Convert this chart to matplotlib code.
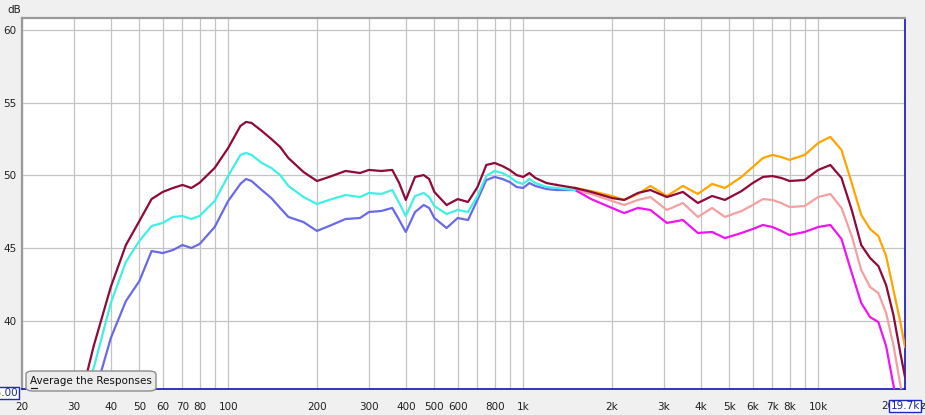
import numpy as np
import matplotlib.pyplot as plt
from matplotlib.patches import FancyBboxPatch
from matplotlib.lines import Line2D
from matplotlib.ticker import FixedLocator, NullFormatter

plt.rcParams['font.family'] = ['DejaVu Sans']

# frequency grids (Hz)
f_low = [35, 40, 45, 50, 55, 60, 65, 70, 75, 80, 90, 100, 110, 115, 120, 130, 140, 150, 160,
         180, 200, 220, 250, 280, 300, 330, 360, 380, 400, 430, 460, 480, 500, 550, 600, 650,
         700, 750, 800, 850, 900, 950, 1000, 1050, 1100, 1200, 1300]
f_high = [1500, 1700, 2000, 2200, 2450, 2700, 3070, 3480, 3910, 4370, 4830, 5500, 6000, 6500,
          7000, 7500, 8000, 9000, 10000, 11000, 12000, 13000, 14000, 15000, 16000, 17000,
          18000, 19000, 19700]

# dark red response, full range
maroon_low = [35.1, 38.28, 42.34, 45.22, 46.87, 48.38, 48.87, 49.14, 49.35, 49.14, 49.5, 50.52,
              51.89, 53.40, 53.68, 53.61, 53.06, 52.51, 51.96, 51.2, 50.24, 49.62, 49.9, 50.31,
              50.17, 50.38, 50.31, 50.38, 49.48, 48.32, 49.9, 50.03, 49.76, 48.87, 47.97, 48.38,
              48.18, 49.2, 50.72, 50.86, 50.65, 50.38, 50.03, 49.9, 50.17, 49.83, 49.48, 49.35]
maroon_high = [49.14, 48.87, 48.45, 48.32, 48.8, 49.0, 48.52, 48.87, 48.11, 48.59, 48.32,
               48.93, 49.48, 49.9, 49.96, 49.83, 49.62, 49.69, 50.38, 50.72, 49.83, 47.63,
               45.22, 44.33, 43.78, 42.47, 40.41, 37.8, 36.15]

# low band responses
cyan_db = [36.0, 36.77, 41.24, 44.06, 45.5, 46.53, 46.74, 47.15, 47.22, 47.01, 47.22, 48.25,
           49.97, 51.41, 51.55, 51.41, 50.86, 50.52, 50.03, 49.28, 48.52, 48.04, 48.32, 48.66,
           48.52, 48.80, 48.73, 49.0, 48.11, 47.22, 48.59, 48.8, 48.52, 47.9, 47.35, 47.63,
           47.49, 48.59, 49.97, 50.31, 50.17, 49.9, 49.55, 49.42, 49.76, 49.48, 49.21, 49.14,
           49.0]
blue_db = [35.6, 38.83, 41.37, 42.75, 44.81, 44.67, 44.88, 45.22, 45.02, 45.29, 46.46, 48.25,
           49.42, 49.76, 49.62, 49.0, 48.45, 47.77, 47.15, 46.8, 46.19, 46.53, 47.01, 47.08,
           47.49, 47.56, 47.77, 46.94, 46.12, 47.49, 47.97, 47.77, 47.08, 46.39, 47.08, 46.94,
           48.32, 49.69, 49.9, 49.76, 49.55, 49.21, 49.14, 49.48, 49.28, 49.07, 49.0, 49.0]

# high band responses
orange_db = [49.14, 48.93, 48.59, 48.32, 48.73, 49.28, 48.59, 49.28, 48.73, 49.42, 49.14,
             49.9, 50.58, 51.2, 51.41, 51.27, 51.07, 51.41, 52.23, 52.65, 51.75, 49.48,
             47.29, 46.32, 45.84, 44.47, 42.13, 39.93, 38.21]
salmon_db = [49.0, 48.73, 48.25, 47.97, 48.32, 48.52, 47.63, 48.11, 47.15, 47.77, 47.15,
             47.56, 47.97, 48.38, 48.32, 48.11, 47.83, 47.9, 48.52, 48.73, 47.77, 45.84,
             43.5, 42.34, 41.92, 40.55, 38.35, 35.6, 34.2]
magenta_db = [49.0, 48.38, 47.77, 47.42, 47.77, 47.63, 46.74, 46.94, 46.05, 46.12, 45.7,
              46.05, 46.32, 46.6, 46.46, 46.19, 45.91, 46.12, 46.46, 46.6, 45.64, 43.3,
              41.24, 40.27, 39.93, 38.28, 35.6, 33.5]

x_major = [20, 30, 40, 50, 60, 70, 80, 100, 200, 300, 400, 500, 600, 800, 1000,
           2000, 3000, 4000, 5000, 6000, 7000, 8000, 10000]
x_labels = ['20', '30', '40', '50', '60', '70', '80', '100', '200', '300', '400', '500',
            '600', '800', '1k', '2k', '3k', '4k', '5k', '6k', '7k', '8k', '10k']
x_minor = [90, 700, 900, 9000]
y_major = [40, 45, 50, 55, 60]

W, H = 925, 415
fig = plt.figure(figsize=(W / 100, H / 100), dpi=100, facecolor='#f0f0f0')
ax = fig.add_axes([22 / W, 26 / H, 883 / W, 371 / H])
ax.set_facecolor('white')

lw = 1.6
ax.plot([32] + f_low, maroon_low, color='#8e0a3a', lw=lw, zorder=5)
ax.plot(f_high, maroon_high, color='#8e0a3a', lw=lw, zorder=5)
ax.plot([f_low[-1], f_high[0]], [maroon_low[-1], maroon_high[0]], color='#8e0a3a', lw=lw, zorder=5)
ax.plot([34] + f_low + [1500], cyan_db, color='#40f0e6', lw=lw, zorder=4)
ax.plot([36] + f_low[1:] + [1500], blue_db, color='#6a6ae6', lw=lw, zorder=3)
ax.plot(f_high, orange_db, color='#ffa500', lw=lw, zorder=4)
ax.plot(f_high, salmon_db, color='#f5a0a0', lw=lw, zorder=3)
ax.plot(f_high[:-1], magenta_db, color='#f014f0', lw=lw, zorder=3)

ax.set_xscale('log')
ax.set_xlim(20, 19700)
ax.set_ylim(35.33, 60.82)
ax.xaxis.set_major_locator(FixedLocator(x_major))
ax.set_xticklabels(x_labels)
ax.xaxis.set_minor_locator(FixedLocator(x_minor))
ax.xaxis.set_minor_formatter(NullFormatter())
ax.set_yticks(y_major)
ax.grid(which='both', axis='x', color='#c4c4c4', lw=0.9, zorder=0)
ax.grid(which='major', axis='y', color='#c4c4c4', lw=0.9, zorder=0)
ax.tick_params(which='both', length=0, labelsize=7.5, labelcolor='#202020')
ax.tick_params(axis='x', pad=9)
ax.tick_params(axis='y', pad=4)

for s in ['left', 'top']:
    ax.spines[s].set_color('#9a9a9a')
    ax.spines[s].set_linewidth(1.6)
for s in ['bottom', 'right']:
    ax.spines[s].set_color('#1010c0')
    ax.spines[s].set_linewidth(1.2)

fig.text(7 / W, 1 - 10 / H, 'dB', fontsize=7.5, va='center', color='#202020')

# cursor readouts
fig.text(881 / W, 1 - 406 / H, '20k', fontsize=7.5, va='center', color='#202020')
fig.text(926 / W, 1 - 406 / H, 'Hz', fontsize=7.5, va='center', ha='right', color='#202020')
fig.text(905 / W, 1 - 406 / H, '19.7k', fontsize=7.5, va='center', ha='center', color='#1a2a9a',
         bbox=dict(boxstyle='square,pad=0.12', fc='white', ec='#1a2ac0', lw=1), zorder=10)
fig.text(18 / W, 1 - 393 / H, '35.00', fontsize=7.5, va='center', ha='right', color='#1a2a9a',
         bbox=dict(boxstyle='square,pad=0.12', fc='white', ec='#1a2ac0', lw=1), zorder=10)

# button
btn = FancyBboxPatch((26 / W, 1 - 391 / H), 130 / W, 20 / H,
                     boxstyle='round,pad=0,rounding_size=0.008', transform=fig.transFigure,
                     fc='#ececec', ec='#8c8c8c', lw=1, zorder=10)
fig.add_artist(btn)
fig.text(91 / W, 1 - 381 / H, 'Average the Responses', fontsize=7.5, ha='center', va='center',
         color='#101010', zorder=11)
fig.add_artist(Line2D([31 / W, 37 / W], [1 - 388 / H, 1 - 388 / H], transform=fig.transFigure,
                      color='#101010', lw=0.8, zorder=11))

fig.savefig('out.png', dpi=100, facecolor=fig.get_facecolor())
